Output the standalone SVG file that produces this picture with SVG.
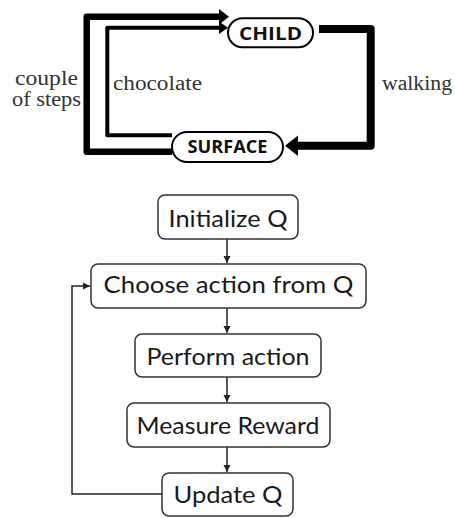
<svg xmlns="http://www.w3.org/2000/svg" width="455" height="518" viewBox="0 0 455 518">
  <defs>
    <style>
      .pill { fill: #fff; stroke: #000; stroke-width: 2; }
      .pill-text { font-family: "Open Sans", "Liberation Sans", sans-serif; font-weight: 700; fill: #111; text-anchor: middle; }
      .label { font-family: "Liberation Serif", serif; font-size: 20px; fill: #333; }
      .box { fill: #fff; stroke: #333; stroke-width: 1.5; }
      .box-text { font-family: Lato, "Liberation Sans", sans-serif; font-size: 24px; fill: #1a1a1a; text-anchor: middle; }
      .thick { fill: none; stroke: #000; stroke-linejoin: round; }
      .thin { fill: none; stroke: #222; stroke-width: 1.5; }
    </style>
    <marker id="tip" viewBox="0 0 10 10" refX="10" refY="5" markerWidth="7" markerHeight="8" markerUnits="userSpaceOnUse" orient="auto">
      <path d="M0,0 L10,5 L0,10 Z" fill="#222"/>
    </marker>
  </defs>

  <!-- top cycle connectors -->
  <g id="cycle-edges">
    <!-- couple of steps: SURFACE -> CHILD (outer loop) -->
    <path class="thick" stroke-width="6.5" d="M172,151.7 H86.7 V16.7 H220"/>
    <polygon points="229,16.7 219,9 219,24.4" fill="#000"/>
    <!-- chocolate: SURFACE -> CHILD (inner loop) -->
    <path class="thick" stroke-width="4" d="M172,135.3 H107.3 V27.7 H220"/>
    <polygon points="228,27.7 219,21.5 219,33.9" fill="#000"/>
    <!-- walking: CHILD -> SURFACE -->
    <path class="thick" stroke-width="8" d="M319,29 H370.7 V145.7 H296"/>
    <polygon points="285,145.7 298,135.5 298,155.9" fill="#000"/>
  </g>

  <g id="child">
    <rect class="pill" x="228" y="18.3" width="85" height="29" rx="14.5"/>
    <text class="pill-text" x="270.5" y="39.5" font-size="18" textLength="63" lengthAdjust="spacingAndGlyphs">CHILD</text>
  </g>
  <g id="surface">
    <rect class="pill" x="172" y="132" width="111" height="30" rx="15"/>
    <text class="pill-text" x="227.5" y="153.3" font-size="17" textLength="80" lengthAdjust="spacingAndGlyphs">SURFACE</text>
  </g>

  <g id="edge-labels">
    <text class="label" x="15" y="85" textLength="63" lengthAdjust="spacingAndGlyphs">couple</text>
    <text class="label" x="12" y="106" textLength="69" lengthAdjust="spacingAndGlyphs">of steps</text>
    <text class="label" x="113" y="90" textLength="89" lengthAdjust="spacingAndGlyphs">chocolate</text>
    <text class="label" x="382" y="90" textLength="70" lengthAdjust="spacingAndGlyphs">walking</text>
  </g>

  <!-- flowchart connectors -->
  <g id="flow-edges">
    <line class="thin" x1="227" y1="239" x2="227" y2="263" marker-end="url(#tip)"/>
    <line class="thin" x1="227" y1="308" x2="227" y2="333" marker-end="url(#tip)"/>
    <line class="thin" x1="227" y1="377" x2="227" y2="402" marker-end="url(#tip)"/>
    <line class="thin" x1="227" y1="447" x2="227" y2="472" marker-end="url(#tip)"/>
    <path class="thin" d="M162,494 H72 V286 H90" marker-end="url(#tip)"/>
  </g>

  <g id="initialize-q">
    <rect class="box" x="158" y="195" width="140" height="44" rx="7"/>
    <text class="box-text" x="228" y="227" textLength="119" lengthAdjust="spacingAndGlyphs">Initialize Q</text>
  </g>
  <g id="choose-action">
    <rect class="box" x="91" y="264" width="275" height="44" rx="7"/>
    <text class="box-text" x="228.5" y="293" textLength="250" lengthAdjust="spacingAndGlyphs">Choose action from Q</text>
  </g>
  <g id="perform-action">
    <rect class="box" x="135" y="334" width="186" height="43" rx="7"/>
    <text class="box-text" x="228" y="365" textLength="163" lengthAdjust="spacingAndGlyphs">Perform action</text>
  </g>
  <g id="measure-reward">
    <rect class="box" x="127" y="403" width="203" height="44" rx="7"/>
    <text class="box-text" x="228" y="434" textLength="183" lengthAdjust="spacingAndGlyphs">Measure Reward</text>
  </g>
  <g id="update-q">
    <rect class="box" x="162" y="473" width="131" height="43" rx="7"/>
    <text class="box-text" x="228" y="503" textLength="109" lengthAdjust="spacingAndGlyphs">Update Q</text>
  </g>
</svg>
